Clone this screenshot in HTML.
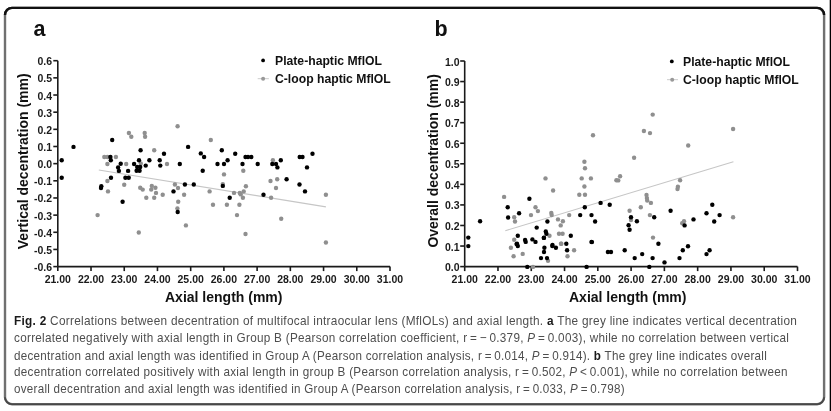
<!DOCTYPE html>
<html><head><meta charset="utf-8"><style>
html,body{margin:0;padding:0;background:#fff;width:831px;height:411px;overflow:hidden;position:relative}
.cl{position:absolute;white-space:nowrap;font-family:"Liberation Sans",sans-serif;font-size:12.6px;line-height:14px;color:#4e4e4e;letter-spacing:0.3px;transform-origin:0 0}
.cl b{color:#1a1a1a}
#wrap{position:absolute;left:0;top:0;width:831px;height:411px;background:#fff;filter:blur(0.35px)}
</style></head><body><div id="wrap">
<svg width="831" height="411" viewBox="0 0 831 411" style="position:absolute;left:0;top:0">
<g fill="none"><rect x="5" y="7.9" width="819.1" height="396.35" rx="7" ry="7" stroke="#707070" stroke-width="2.4"/>
<path d="M5,14.9 A7,7 0 0 1 12,7.9 L817.1,7.9 A7,7 0 0 1 824.1,14.9" stroke="#111" stroke-width="2.4"/>
<path d="M5,397.25 A7,7 0 0 0 12,404.25 L817.1,404.25 A7,7 0 0 0 824.1,397.25" stroke="#474747" stroke-width="1.7"/></g>
<rect x="829.7" y="0" width="1.3" height="411" fill="#000"/>
<g stroke="#1a1a1a" stroke-width="1.6" fill="none"><line x1="57.8" y1="60.7" x2="57.8" y2="266.6" /><line x1="53.3" y1="60.7" x2="57.8" y2="60.7" /><line x1="53.3" y1="77.85833333333333" x2="57.8" y2="77.85833333333333" /><line x1="53.3" y1="95.01666666666668" x2="57.8" y2="95.01666666666668" /><line x1="53.3" y1="112.17500000000001" x2="57.8" y2="112.17500000000001" /><line x1="53.3" y1="129.33333333333334" x2="57.8" y2="129.33333333333334" /><line x1="53.3" y1="146.49166666666667" x2="57.8" y2="146.49166666666667" /><line x1="53.3" y1="163.65" x2="57.8" y2="163.65" /><line x1="53.3" y1="180.80833333333334" x2="57.8" y2="180.80833333333334" /><line x1="53.3" y1="197.9666666666667" x2="57.8" y2="197.9666666666667" /><line x1="53.3" y1="215.12500000000006" x2="57.8" y2="215.12500000000006" /><line x1="53.3" y1="232.28333333333336" x2="57.8" y2="232.28333333333336" /><line x1="53.3" y1="249.44166666666672" x2="57.8" y2="249.44166666666672" /><line x1="53.3" y1="266.6" x2="57.8" y2="266.6" /><line x1="57.8" y1="266.6" x2="390.0" y2="266.6" /><line x1="57.8" y1="266.6" x2="57.8" y2="271.1" /><line x1="91.02" y1="266.6" x2="91.02" y2="271.1" /><line x1="124.24" y1="266.6" x2="124.24" y2="271.1" /><line x1="157.45999999999998" y1="266.6" x2="157.45999999999998" y2="271.1" /><line x1="190.68" y1="266.6" x2="190.68" y2="271.1" /><line x1="223.89999999999998" y1="266.6" x2="223.89999999999998" y2="271.1" /><line x1="257.12" y1="266.6" x2="257.12" y2="271.1" /><line x1="290.34" y1="266.6" x2="290.34" y2="271.1" /><line x1="323.56" y1="266.6" x2="323.56" y2="271.1" /><line x1="356.78000000000003" y1="266.6" x2="356.78000000000003" y2="271.1" /><line x1="390.0" y1="266.6" x2="390.0" y2="271.1" /><line x1="464.7" y1="61.0" x2="464.7" y2="266.6" /><line x1="460.2" y1="61.0" x2="464.7" y2="61.0" /><line x1="460.2" y1="81.56" x2="464.7" y2="81.56" /><line x1="460.2" y1="102.12" x2="464.7" y2="102.12" /><line x1="460.2" y1="122.68" x2="464.7" y2="122.68" /><line x1="460.2" y1="143.24" x2="464.7" y2="143.24" /><line x1="460.2" y1="163.8" x2="464.7" y2="163.8" /><line x1="460.2" y1="184.36" x2="464.7" y2="184.36" /><line x1="460.2" y1="204.92000000000002" x2="464.7" y2="204.92000000000002" /><line x1="460.2" y1="225.48000000000002" x2="464.7" y2="225.48000000000002" /><line x1="460.2" y1="246.04000000000002" x2="464.7" y2="246.04000000000002" /><line x1="460.2" y1="266.6" x2="464.7" y2="266.6" /><line x1="464.7" y1="266.6" x2="797.5" y2="266.6" /><line x1="464.7" y1="266.6" x2="464.7" y2="271.1" /><line x1="497.98" y1="266.6" x2="497.98" y2="271.1" /><line x1="531.26" y1="266.6" x2="531.26" y2="271.1" /><line x1="564.54" y1="266.6" x2="564.54" y2="271.1" /><line x1="597.8199999999999" y1="266.6" x2="597.8199999999999" y2="271.1" /><line x1="631.1" y1="266.6" x2="631.1" y2="271.1" /><line x1="664.38" y1="266.6" x2="664.38" y2="271.1" /><line x1="697.66" y1="266.6" x2="697.66" y2="271.1" /><line x1="730.94" y1="266.6" x2="730.94" y2="271.1" /><line x1="764.22" y1="266.6" x2="764.22" y2="271.1" /><line x1="797.5" y1="266.6" x2="797.5" y2="271.1" /></g>
<g font-family="Liberation Sans" font-weight="bold" font-size="10.5" fill="#1a1a1a"><text x="52.0" y="65.2" text-anchor="end">0.6</text><text x="52.0" y="82.35833333333333" text-anchor="end">0.5</text><text x="52.0" y="99.51666666666668" text-anchor="end">0.4</text><text x="52.0" y="116.67500000000001" text-anchor="end">0.3</text><text x="52.0" y="133.83333333333334" text-anchor="end">0.2</text><text x="52.0" y="150.99166666666667" text-anchor="end">0.1</text><text x="52.0" y="168.15" text-anchor="end">0.0</text><text x="52.0" y="185.30833333333334" text-anchor="end">-0.1</text><text x="52.0" y="202.4666666666667" text-anchor="end">-0.2</text><text x="52.0" y="219.62500000000006" text-anchor="end">-0.3</text><text x="52.0" y="236.78333333333336" text-anchor="end">-0.4</text><text x="52.0" y="253.94166666666672" text-anchor="end">-0.5</text><text x="52.0" y="271.1" text-anchor="end">-0.6</text><text x="57.8" y="283" text-anchor="middle">21.00</text><text x="91.02" y="283" text-anchor="middle">22.00</text><text x="124.24" y="283" text-anchor="middle">23.00</text><text x="157.45999999999998" y="283" text-anchor="middle">24.00</text><text x="190.68" y="283" text-anchor="middle">25.00</text><text x="223.89999999999998" y="283" text-anchor="middle">26.00</text><text x="257.12" y="283" text-anchor="middle">27.00</text><text x="290.34" y="283" text-anchor="middle">28.00</text><text x="323.56" y="283" text-anchor="middle">29.00</text><text x="356.78000000000003" y="283" text-anchor="middle">30.00</text><text x="390.0" y="283" text-anchor="middle">31.00</text><text x="459.5" y="65.5" text-anchor="end">1.0</text><text x="459.5" y="86.06" text-anchor="end">0.9</text><text x="459.5" y="106.62" text-anchor="end">0.8</text><text x="459.5" y="127.18" text-anchor="end">0.7</text><text x="459.5" y="147.74" text-anchor="end">0.6</text><text x="459.5" y="168.3" text-anchor="end">0.5</text><text x="459.5" y="188.86" text-anchor="end">0.4</text><text x="459.5" y="209.42000000000002" text-anchor="end">0.3</text><text x="459.5" y="229.98000000000002" text-anchor="end">0.2</text><text x="459.5" y="250.54000000000002" text-anchor="end">0.1</text><text x="459.5" y="271.1" text-anchor="end">0.0</text><text x="464.7" y="283" text-anchor="middle">21.00</text><text x="497.98" y="283" text-anchor="middle">22.00</text><text x="531.26" y="283" text-anchor="middle">23.00</text><text x="564.54" y="283" text-anchor="middle">24.00</text><text x="597.8199999999999" y="283" text-anchor="middle">25.00</text><text x="631.1" y="283" text-anchor="middle">26.00</text><text x="664.38" y="283" text-anchor="middle">27.00</text><text x="697.66" y="283" text-anchor="middle">28.00</text><text x="730.94" y="283" text-anchor="middle">29.00</text><text x="764.22" y="283" text-anchor="middle">30.00</text><text x="797.5" y="283" text-anchor="middle">31.00</text></g>
<g stroke="#c6c6c6" stroke-width="1.1"><line x1="98.8" y1="170" x2="325.9" y2="206.9"/><line x1="505.3" y1="230.7" x2="733.4" y2="161.7"/></g>
<g fill="#8f8f8f"><circle cx="104.3" cy="157" r="2.2"/><circle cx="107.4" cy="157" r="2.2"/><circle cx="115.9" cy="157" r="2.2"/><circle cx="107.4" cy="164" r="2.2"/><circle cx="126.2" cy="164" r="2.2"/><circle cx="107.4" cy="181" r="2.2"/><circle cx="124.2" cy="184.7" r="2.2"/><circle cx="108" cy="191.4" r="2.2"/><circle cx="97.6" cy="215.1" r="2.2"/><circle cx="128.9" cy="133" r="2.2"/><circle cx="131.3" cy="136.7" r="2.2"/><circle cx="144.7" cy="133" r="2.2"/><circle cx="145.1" cy="136.7" r="2.2"/><circle cx="177.6" cy="126.3" r="2.2"/><circle cx="154.2" cy="150.3" r="2.2"/><circle cx="167" cy="164" r="2.2"/><circle cx="140.8" cy="163.4" r="2.2"/><circle cx="140.2" cy="187.7" r="2.2"/><circle cx="142.7" cy="189.6" r="2.2"/><circle cx="151.8" cy="185.9" r="2.2"/><circle cx="155.4" cy="187.7" r="2.2"/><circle cx="151.2" cy="189.6" r="2.2"/><circle cx="156" cy="192.9" r="2.2"/><circle cx="162.7" cy="194.8" r="2.2"/><circle cx="146.3" cy="197.7" r="2.2"/><circle cx="154.2" cy="197.7" r="2.2"/><circle cx="174.9" cy="184.5" r="2.2"/><circle cx="178" cy="188" r="2.2"/><circle cx="184.1" cy="194.8" r="2.2"/><circle cx="178.2" cy="201.7" r="2.2"/><circle cx="177.4" cy="208.4" r="2.2"/><circle cx="185.9" cy="225.4" r="2.2"/><circle cx="138.8" cy="232.5" r="2.2"/><circle cx="210.8" cy="140" r="2.2"/><circle cx="224" cy="174.4" r="2.2"/><circle cx="243.3" cy="170.7" r="2.2"/><circle cx="222.8" cy="184.1" r="2.2"/><circle cx="209.6" cy="191.4" r="2.2"/><circle cx="245.9" cy="186.2" r="2.2"/><circle cx="234" cy="192.9" r="2.2"/><circle cx="239.8" cy="192.9" r="2.2"/><circle cx="240.7" cy="194.4" r="2.2"/><circle cx="243.7" cy="191.4" r="2.2"/><circle cx="242.9" cy="197.7" r="2.2"/><circle cx="213" cy="204.7" r="2.2"/><circle cx="226.9" cy="204.7" r="2.2"/><circle cx="239.4" cy="204.7" r="2.2"/><circle cx="237" cy="215.1" r="2.2"/><circle cx="245.5" cy="234" r="2.2"/><circle cx="272.9" cy="160.3" r="2.2"/><circle cx="270.5" cy="181" r="2.2"/><circle cx="277.2" cy="179.2" r="2.2"/><circle cx="276" cy="188" r="2.2"/><circle cx="325.9" cy="194.8" r="2.2"/><circle cx="271.1" cy="197.7" r="2.2"/><circle cx="281.2" cy="218.7" r="2.2"/><circle cx="325.9" cy="242.5" r="2.2"/><circle cx="652.7" cy="114.6" r="2.2"/><circle cx="643.9" cy="131" r="2.2"/><circle cx="650" cy="133.1" r="2.2"/><circle cx="593" cy="135.3" r="2.2"/><circle cx="733.1" cy="129" r="2.2"/><circle cx="688.2" cy="145.5" r="2.2"/><circle cx="634.1" cy="157.7" r="2.2"/><circle cx="504.1" cy="196.9" r="2.2"/><circle cx="584.4" cy="161.8" r="2.2"/><circle cx="585" cy="168.3" r="2.2"/><circle cx="545.5" cy="178.4" r="2.2"/><circle cx="581.7" cy="178.4" r="2.2"/><circle cx="590.9" cy="178.4" r="2.2"/><circle cx="553.1" cy="190.5" r="2.2"/><circle cx="584.4" cy="186.5" r="2.2"/><circle cx="579.3" cy="194.8" r="2.2"/><circle cx="585" cy="194.8" r="2.2"/><circle cx="620.1" cy="176.2" r="2.2"/><circle cx="616.4" cy="180.2" r="2.2"/><circle cx="618.3" cy="180.4" r="2.2"/><circle cx="646.5" cy="195" r="2.2"/><circle cx="646.9" cy="198.1" r="2.2"/><circle cx="680.1" cy="180.2" r="2.2"/><circle cx="677.9" cy="186.8" r="2.2"/><circle cx="677.5" cy="189" r="2.2"/><circle cx="514.2" cy="217.3" r="2.2"/><circle cx="515" cy="221.5" r="2.2"/><circle cx="531" cy="215.1" r="2.2"/><circle cx="514.2" cy="239.8" r="2.2"/><circle cx="535.5" cy="207.2" r="2.2"/><circle cx="537.9" cy="211.1" r="2.2"/><circle cx="551.3" cy="213" r="2.2"/><circle cx="551.7" cy="215.1" r="2.2"/><circle cx="569.2" cy="215.1" r="2.2"/><circle cx="558" cy="219.4" r="2.2"/><circle cx="562.9" cy="221.2" r="2.2"/><circle cx="560.7" cy="225.4" r="2.2"/><circle cx="549.5" cy="235.8" r="2.2"/><circle cx="559" cy="233.7" r="2.2"/><circle cx="562.6" cy="233.7" r="2.2"/><circle cx="561" cy="243.7" r="2.2"/><circle cx="647.2" cy="200.5" r="2.2"/><circle cx="650.9" cy="202.9" r="2.2"/><circle cx="640.8" cy="207.2" r="2.2"/><circle cx="629.6" cy="210.8" r="2.2"/><circle cx="631" cy="220" r="2.2"/><circle cx="649.9" cy="215.1" r="2.2"/><circle cx="653" cy="237.6" r="2.2"/><circle cx="684" cy="221.2" r="2.2"/><circle cx="682.2" cy="223.2" r="2.2"/><circle cx="733.1" cy="217.3" r="2.2"/><circle cx="510.9" cy="247.8" r="2.2"/><circle cx="522.7" cy="253.9" r="2.2"/><circle cx="513.6" cy="256.3" r="2.2"/><circle cx="533" cy="266.9" r="2.2"/><circle cx="561.3" cy="243.8" r="2.2"/><circle cx="574.1" cy="250.2" r="2.2"/><circle cx="567.5" cy="256.3" r="2.2"/><circle cx="548" cy="260.8" r="2.2"/></g>
<g fill="#000"><circle cx="73.5" cy="146.9" r="2.2"/><circle cx="61.7" cy="160.3" r="2.2"/><circle cx="61.7" cy="177.8" r="2.2"/><circle cx="112.2" cy="140" r="2.2"/><circle cx="110.4" cy="157" r="2.2"/><circle cx="110.8" cy="160.3" r="2.2"/><circle cx="120.7" cy="163.8" r="2.2"/><circle cx="118.1" cy="167.4" r="2.2"/><circle cx="118.9" cy="170.9" r="2.2"/><circle cx="128.1" cy="170.9" r="2.2"/><circle cx="111" cy="177.8" r="2.2"/><circle cx="125.4" cy="177.8" r="2.2"/><circle cx="128.7" cy="177.8" r="2.2"/><circle cx="101.3" cy="186.3" r="2.2"/><circle cx="101" cy="188" r="2.2"/><circle cx="140.6" cy="150.3" r="2.2"/><circle cx="164" cy="153.7" r="2.2"/><circle cx="188.1" cy="146.9" r="2.2"/><circle cx="139" cy="160.3" r="2.2"/><circle cx="134.1" cy="164" r="2.2"/><circle cx="137.2" cy="167" r="2.2"/><circle cx="140.2" cy="167" r="2.2"/><circle cx="136.6" cy="170.7" r="2.2"/><circle cx="139.6" cy="170.7" r="2.2"/><circle cx="145.7" cy="165.6" r="2.2"/><circle cx="149.4" cy="160.3" r="2.2"/><circle cx="159.7" cy="160.3" r="2.2"/><circle cx="160.3" cy="165.6" r="2.2"/><circle cx="179.8" cy="164" r="2.2"/><circle cx="173.5" cy="191.4" r="2.2"/><circle cx="184.9" cy="184.5" r="2.2"/><circle cx="193.8" cy="184.5" r="2.2"/><circle cx="122.6" cy="201.7" r="2.2"/><circle cx="177.7" cy="212" r="2.2"/><circle cx="200.8" cy="153.4" r="2.2"/><circle cx="204.1" cy="157" r="2.2"/><circle cx="221.8" cy="150.3" r="2.2"/><circle cx="235.2" cy="153.7" r="2.2"/><circle cx="245.5" cy="157" r="2.2"/><circle cx="248" cy="157" r="2.2"/><circle cx="251.3" cy="157" r="2.2"/><circle cx="227.6" cy="160.3" r="2.2"/><circle cx="217.5" cy="164" r="2.2"/><circle cx="224" cy="164" r="2.2"/><circle cx="242.5" cy="164" r="2.2"/><circle cx="257.7" cy="164" r="2.2"/><circle cx="202.7" cy="170.7" r="2.2"/><circle cx="222.8" cy="185.9" r="2.2"/><circle cx="229.7" cy="197.7" r="2.2"/><circle cx="263.5" cy="194.8" r="2.2"/><circle cx="312.5" cy="153.7" r="2.2"/><circle cx="299.7" cy="157" r="2.2"/><circle cx="302.5" cy="157" r="2.2"/><circle cx="280.8" cy="160.3" r="2.2"/><circle cx="272.3" cy="164" r="2.2"/><circle cx="276" cy="164" r="2.2"/><circle cx="277.4" cy="167.4" r="2.2"/><circle cx="307" cy="167.4" r="2.2"/><circle cx="286.6" cy="179.2" r="2.2"/><circle cx="299.5" cy="184.5" r="2.2"/><circle cx="305" cy="191.4" r="2.2"/><circle cx="529.4" cy="198.7" r="2.2"/><circle cx="507.7" cy="207.2" r="2.2"/><circle cx="519.1" cy="213.3" r="2.2"/><circle cx="508.1" cy="217.5" r="2.2"/><circle cx="480.1" cy="221.2" r="2.2"/><circle cx="468.3" cy="237.6" r="2.2"/><circle cx="468.3" cy="246.1" r="2.2"/><circle cx="517.8" cy="235.8" r="2.2"/><circle cx="517" cy="243.7" r="2.2"/><circle cx="516.6" cy="244.1" r="2.2"/><circle cx="517.8" cy="246" r="2.2"/><circle cx="525.1" cy="240" r="2.2"/><circle cx="525.7" cy="241.9" r="2.2"/><circle cx="532.4" cy="239.4" r="2.2"/><circle cx="584.8" cy="207.2" r="2.2"/><circle cx="600.6" cy="202.9" r="2.2"/><circle cx="580.2" cy="215.1" r="2.2"/><circle cx="591.5" cy="215.1" r="2.2"/><circle cx="595.1" cy="221.5" r="2.2"/><circle cx="547.4" cy="221.5" r="2.2"/><circle cx="536.7" cy="227.6" r="2.2"/><circle cx="545.8" cy="231.5" r="2.2"/><circle cx="546.4" cy="233.7" r="2.2"/><circle cx="543.8" cy="237.9" r="2.2"/><circle cx="570.8" cy="235.8" r="2.2"/><circle cx="535.5" cy="241.9" r="2.2"/><circle cx="591.5" cy="241.9" r="2.2"/><circle cx="566.3" cy="243.7" r="2.2"/><circle cx="552.5" cy="245" r="2.2"/><circle cx="609.7" cy="204.7" r="2.2"/><circle cx="631" cy="217.3" r="2.2"/><circle cx="636.9" cy="221.2" r="2.2"/><circle cx="628.6" cy="225.2" r="2.2"/><circle cx="629.6" cy="229.7" r="2.2"/><circle cx="654.2" cy="217.3" r="2.2"/><circle cx="670.6" cy="210.8" r="2.2"/><circle cx="658.4" cy="243.7" r="2.2"/><circle cx="684.6" cy="225.4" r="2.2"/><circle cx="693.5" cy="219.4" r="2.2"/><circle cx="706.5" cy="213.3" r="2.2"/><circle cx="712.3" cy="204.7" r="2.2"/><circle cx="719.6" cy="215.1" r="2.2"/><circle cx="714.2" cy="221.5" r="2.2"/><circle cx="688" cy="246.2" r="2.2"/><circle cx="527.3" cy="266.9" r="2.2"/><circle cx="544" cy="237.7" r="2.2"/><circle cx="591.9" cy="242.1" r="2.2"/><circle cx="552.3" cy="246" r="2.2"/><circle cx="555.9" cy="247.8" r="2.2"/><circle cx="544.4" cy="247.8" r="2.2"/><circle cx="544" cy="252" r="2.2"/><circle cx="567.1" cy="250.2" r="2.2"/><circle cx="541" cy="258.1" r="2.2"/><circle cx="547" cy="258.1" r="2.2"/><circle cx="586.6" cy="266.9" r="2.2"/><circle cx="607.9" cy="252" r="2.2"/><circle cx="611" cy="252" r="2.2"/><circle cx="624.7" cy="250.2" r="2.2"/><circle cx="634.7" cy="258.1" r="2.2"/><circle cx="642.2" cy="254.1" r="2.2"/><circle cx="652.6" cy="258.1" r="2.2"/><circle cx="664.5" cy="262.4" r="2.2"/><circle cx="649.3" cy="266.9" r="2.2"/><circle cx="679.5" cy="258.1" r="2.2"/><circle cx="682.8" cy="250.2" r="2.2"/><circle cx="706.5" cy="254.1" r="2.2"/><circle cx="709.6" cy="250.2" r="2.2"/></g>
<g font-family="Liberation Sans" font-weight="bold" fill="#111">
<text x="33.6" y="36" font-size="21.5">a</text>
<text x="434.4" y="36" font-size="21.5">b</text>
<text x="165" y="301.5" font-size="14">Axial length (mm)</text>
<text x="569" y="301.5" font-size="14">Axial length (mm)</text>
<text transform="translate(28.3,249.2) rotate(-90)" font-size="14">Vertical decentration (mm)</text>
<text transform="translate(437.6,247.6) rotate(-90)" font-size="14">Overall decentration (mm)</text>
<text x="275" y="64.9" font-size="12.2">Plate-haptic MflOL</text>
<text x="275" y="83.0" font-size="12.2">C-loop haptic MflOL</text>
<text x="683" y="65.5" font-size="12.2">Plate-haptic MflOL</text>
<text x="683" y="84.2" font-size="12.2">C-loop haptic MflOL</text>
</g>
<circle cx="263.1" cy="60.4" r="1.9" fill="#000"/>
<line x1="257.7" y1="78.7" x2="268.9" y2="78.7" stroke="#ccc" stroke-width="1"/>
<circle cx="263.1" cy="78.7" r="2" fill="#999"/>
<circle cx="671.8" cy="61.4" r="1.9" fill="#000"/>
<line x1="667" y1="79.7" x2="678" y2="79.7" stroke="#ccc" stroke-width="1"/>
<circle cx="672.2" cy="79.7" r="2" fill="#999"/>
</svg>
<div class="cl" id="cl0" style="left:14px;top:314.1px;transform:scaleX(0.9384)"><b>Fig. 2</b> Correlations between decentration of multifocal intraocular lens (MflOLs) and axial length. <b>a</b> The grey line indicates vertical decentration</div>
<div class="cl" id="cl1" style="left:14px;top:331.2px;transform:scaleX(0.9311)">correlated negatively with axial length in Group B (Pearson correlation coefficient, r&thinsp;=&thinsp;−&thinsp;0.379, <i>P</i>&thinsp;=&thinsp;0.003), while no correlation between vertical</div>
<div class="cl" id="cl2" style="left:14px;top:348.5px;transform:scaleX(0.9238)">decentration and axial length was identified in Group A (Pearson correlation analysis, r&thinsp;=&thinsp;0.014, <i>P</i>&thinsp;=&thinsp;0.914). <b>b</b> The grey line indicates overall</div>
<div class="cl" id="cl3" style="left:14px;top:365.4px;transform:scaleX(0.9288)">decentration correlated positively with axial length in group B (Pearson correlation analysis, r&thinsp;=&thinsp;0.502, <i>P</i>&thinsp;&lt;&thinsp;0.001), while no correlation between</div>
<div class="cl" id="cl4" style="left:14px;top:382.3px;transform:scaleX(0.9213)">overall decentration and axial length was identified in Group A (Pearson correlation analysis, r&thinsp;=&thinsp;0.033, <i>P</i>&thinsp;=&thinsp;0.798)</div>

</div></body></html>
